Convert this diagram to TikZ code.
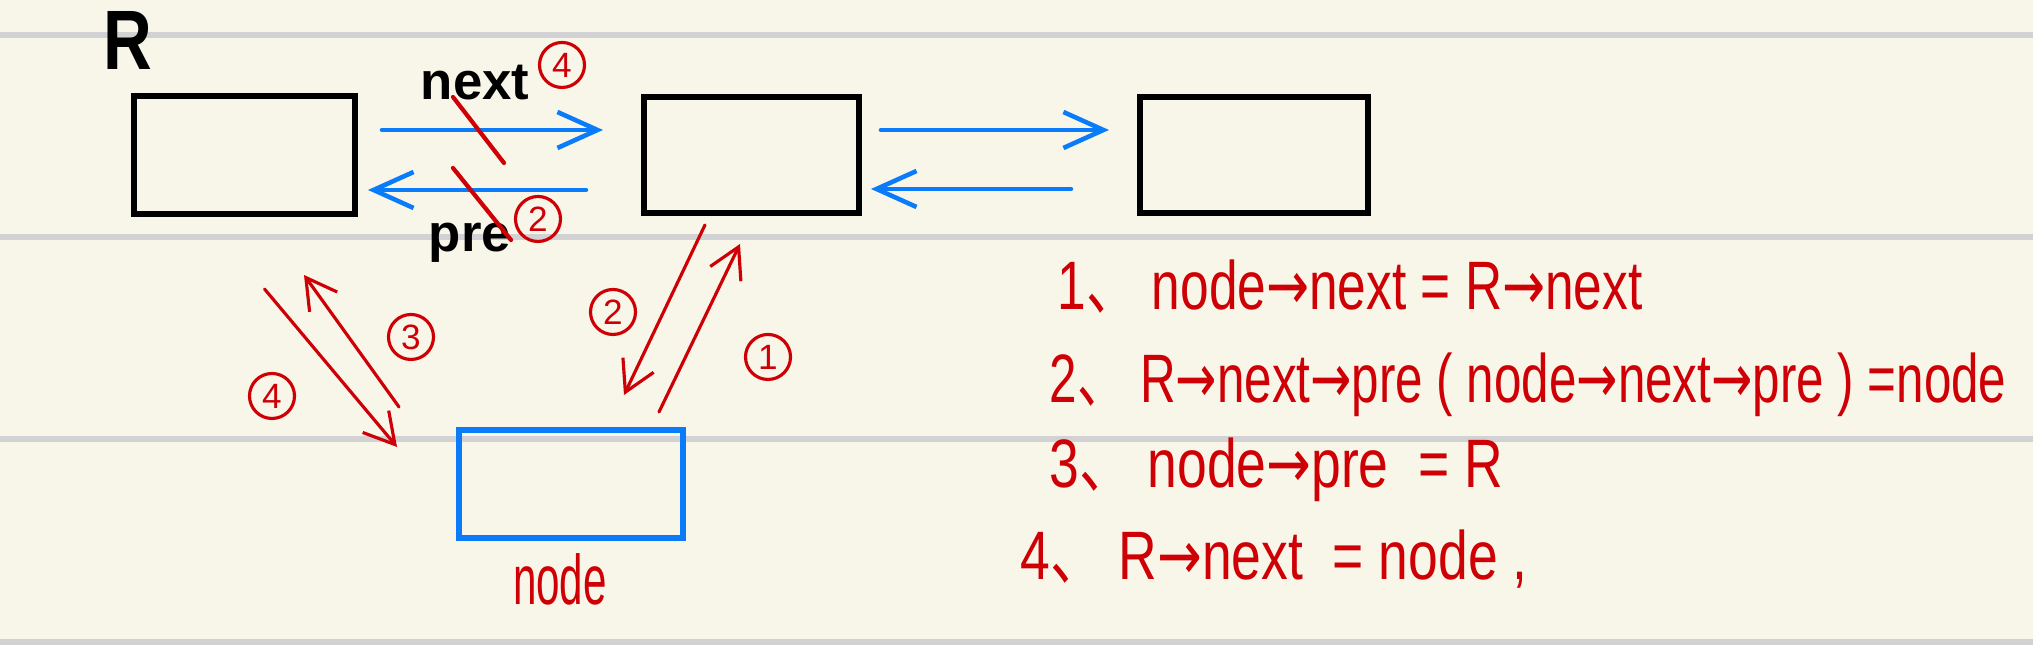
\documentclass[tikz,border=0pt]{standalone}
\usepackage{fontspec}
\usepackage{graphicx}
\setmainfont{Liberation Sans}
\newfontfamily\cjk{Noto Sans CJK SC}
\newfontfamily\symfont{DejaVu Sans}
\usepackage{tikz}
\usetikzlibrary{arrows.meta, positioning}
\definecolor{paper}{RGB}{248,246,233}
\definecolor{rule}{RGB}{210,210,212}
\definecolor{inkblue}{RGB}{10,124,250}
\definecolor{inkred}{RGB}{206,0,6}
\newcommand\narrow[2][0.72]{\scalebox{#1}[1]{#2}}
\newcommand\ptr{{\symfont →}}

\begin{document}
\begin{tikzpicture}[
  box/.style={rectangle, draw=black, line width=1.7pt, inner sep=0pt,
    minimum width=2.2cm, minimum height=1.16cm},
  link/.style={-{Straight Barb[length=4mm, width=3.6mm]}, inkblue,
    line width=1.3pt, line cap=round},
  redarr/.style={-{Straight Barb[length=3mm, width=3.4mm]}, inkred,
    line width=0.9pt, line cap=round},
  num/.style={circle, draw=inkred, text=inkred, line width=0.9pt,
    minimum size=0.45cm, inner sep=0pt, font=\fontsize{10}{10}\selectfont},
  field/.style={font=\bfseries\fontsize{15}{15}\selectfont, text=black},
  eqline/.style={anchor=base west, inner sep=0pt, text=inkred,
    font=\fontsize{19.5}{22}\selectfont}
]
  \useasboundingbox (0,0) rectangle (20.33,6.45);
  \fill[paper] (0,0) rectangle (20.33,6.45);
  \foreach \y in {6.10,4.08,2.06,0.03}
    \draw[rule, line width=1.7pt] (0,\y) -- (20.33,\y);

  \node[box, minimum width=2.21cm, minimum height=1.18cm] (rbox) at (2.445,4.90) {};
  \node[box, minimum width=2.15cm, right=2.83cm of rbox] (midbox) {};
  \node[box, minimum width=2.28cm, right=2.75cm of midbox] (rightbox) {};
  \node[box, draw=inkblue, minimum width=2.24cm, minimum height=1.08cm] (newnode) at (5.71,1.61) {};

  \node[font=\bfseries\fontsize{24}{24}\selectfont] (rname) at (1.28,6.04) {\narrow[0.8]{R}};
  \node[field] (nextlbl) at (4.75,5.62) {next};
  \node[field] (prelbl) at (4.70,4.02) {pre};
  \node[text=inkred, font=\fontsize{20}{20}\selectfont] (nodelbl) at (5.60,0.66) {\narrow[0.6]{node}};

  %% blue links
  \draw[link] ([shift={(0.24,0.25)}]rbox.east) -- ([shift={(-0.38,0.25)}]midbox.west);
  \draw[link] ([shift={(-0.55,-0.35)}]midbox.west) -- ([shift={(0.10,-0.35)}]rbox.east);
  \draw[link] ([shift={(0.19,0.25)}]midbox.east) -- ([shift={(-0.28,0.25)}]rightbox.west);
  \draw[link] ([shift={(-0.66,-0.34)}]rightbox.west) -- ([shift={(0.09,-0.34)}]midbox.east);

  %% crossed out
  \draw[inkred, line width=1.2pt, line cap=round] (4.53,5.48) -- (5.04,4.82);
  \draw[inkred, line width=1.2pt, line cap=round] (4.53,4.77) -- (5.11,4.05);

  %% insert steps
  \draw[redarr] ([shift={(0.2,-0.72)}]rbox.south) -- ([shift={(-0.59,0.37)}]newnode.west);
  \draw[redarr] ([shift={(-0.57,0.77)}]newnode.west) -- ([shift={(0.595,-0.58)}]rbox.south);
  \draw[redarr] ([shift={(-0.465,-0.09)}]midbox.south) -- ([shift={(0.53,0.32)}]newnode.north);
  \draw[redarr] ([shift={(0.88,0.15)}]newnode.north) -- ([shift={(-0.115,-0.28)}]midbox.south);

  \node[num] (ntop) at (5.62,5.80) {4};
  \node[num] (ptop) at (5.38,4.26) {2};
  \node[num] (n3) at (4.11,3.08) {3};
  \node[num] (n4) at (2.72,2.49) {4};
  \node[num] (n2) at (6.13,3.33) {2};
  \node[num] (n1) at (7.68,2.88) {1};

  %% steps
  \node[eqline] (eq1) at (10.57,3.35) {\narrow[0.75]{1{\cjk 、} node\ptr next = R\ptr next}};
  \node[eqline] (eq2) at (10.49,2.42) {\narrow[0.72]{2{\cjk 、} R\ptr next\ptr pre ( node\ptr next\ptr pre ) =node}};
  \node[eqline] (eq3) at (10.49,1.57) {\narrow[0.78]{3{\cjk 、} node\ptr pre \ = R}};
  \node[eqline] (eq4) at (10.20,0.65) {\narrow[0.78]{4{\cjk 、} R\ptr next \ = node ,}};
\end{tikzpicture}
\end{document}
